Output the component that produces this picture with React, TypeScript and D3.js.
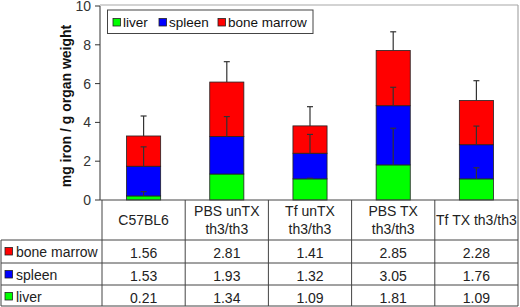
import React from "react";
import * as d3 from "d3";

const categories = ["C57BL6", "PBS unTX th3/th3", "Tf unTX th3/th3", "PBS TX th3/th3", "Tf TX th3/th3"];
const headerLines = [["C57BL6"], ["PBS unTX", "th3/th3"], ["Tf unTX", "th3/th3"], ["PBS TX", "th3/th3"], ["Tf TX th3/th3"]];
const seriesNames = ["liver", "spleen", "bone marrow"];
const seriesColors = ["#00ff00", "#0000ff", "#ff0000"];
const liver = [0.21, 1.34, 1.09, 1.81, 1.09];
const spleen = [1.53, 1.93, 1.32, 3.05, 1.76];
const boneMarrow = [1.56, 2.81, 1.41, 2.85, 2.28];
const liverErr = [0.22, 0, 0.03, 1.89, 0.57];
const spleenErr = [1.0, 1.03, 0.97, 0.95, 0.96];
const marrowErr = [1.03, 1.05, 0.99, 0.96, 1.02];
const yTicks = [0, 2, 4, 6, 8, 10];
const yTitle = "mg iron / g organ weight";

const W = 520;
const H = 307;
const FONT = "'Liberation Sans', Arial, sans-serif";

export default function App() {
  const left = 100;
  const right = 518;
  const top = 6;
  const bottom = 200;
  const y = d3.scaleLinear().domain([0, 10]).range([bottom, top]);
  const col = d3.scaleBand<string>().domain(categories).range([102, right]).padding(0);
  const x = d3.scaleBand<string>().domain(categories).range([102, right]).paddingInner(0.59).paddingOuter(0.295);

  const series = [liver, spleen, boneMarrow];
  const errs = [liverErr, spleenErr, marrowErr];
  const tableRows = [
    { name: "bone marrow", color: seriesColors[2], vals: boneMarrow },
    { name: "spleen", color: seriesColors[1], vals: spleen },
    { name: "liver", color: seriesColors[0], vals: liver },
  ];

  const rowTops = [240, 263, 285, 306];
  const lineColor = "#444";

  const bars: React.ReactNode[] = [];
  const errBars: React.ReactNode[] = [];
  categories.forEach((c, i) => {
    let cum = 0;
    series.forEach((s, k) => {
      const v0 = cum;
      const v1 = cum + s[i];
      cum = v1;
      const bx = x(c)!;
      bars.push(
        <rect key={`b${i}-${k}`} x={bx} y={y(v1)} width={x.bandwidth()} height={y(v0) - y(v1)}
          fill={seriesColors[k]} stroke="#222" strokeWidth={0.8} />
      );
      const e = errs[k][i];
      if (e > 0) {
        const cx = bx + x.bandwidth() / 2;
        errBars.push(
          <g key={`e${i}-${k}`} stroke="#333" strokeWidth={1.2}>
            <line x1={cx} x2={cx} y1={y(v1)} y2={y(v1 + e)} />
            <line x1={cx - 3} x2={cx + 3} y1={y(v1 + e)} y2={y(v1 + e)} />
          </g>
        );
      }
    });
  });

  const legendOffsets = [0, 46, 105];

  return (
    <svg width={W} height={H} style={{ position: "absolute", left: 0, top: 0, background: "#fff" }} fontFamily={FONT}>
      {/* plot area border */}
      <line x1={left} x2={right} y1={5} y2={5} stroke="#a8a8a8" strokeWidth={1.2} />
      <line x1={right} x2={right} y1={5} y2={bottom} stroke="#a8a8a8" strokeWidth={1.2} />

      {bars}
      {errBars}

      {/* y axis */}
      <line x1={left} x2={left} y1={top} y2={bottom} stroke="#333" strokeWidth={1} />
      {yTicks.map((t) => (
        <g key={t}>
          <line x1={left - 5} x2={left} y1={y(t)} y2={y(t)} stroke="#333" />
          <text x={left - 9} y={y(t)} dy="0.35em" textAnchor="end" fontSize={14} fill="#333">{t}</text>
        </g>
      ))}
      <text transform={`translate(71,${(top + bottom) / 2 + 3}) rotate(-90)`} textAnchor="middle" fontSize={14}
        fontWeight="bold" fill="#111">{yTitle}</text>

      {/* legend */}
      <rect x={107.5} y={10} width={205.5} height={23.5} fill="#fff" stroke="#444" strokeWidth={1} />
      {seriesNames.map((n, k) => (
        <g key={n} transform={`translate(${113 + legendOffsets[k]},0)`}>
          <rect x={0} y={18.5} width={7.5} height={7.5} fill={seriesColors[k]} stroke="#222" strokeWidth={0.8} />
          <text x={10} y={26.5} fontSize={13.5} fill="#111">{n}</text>
        </g>
      ))}

      {/* table */}
      <line x1={left} x2={right} y1={bottom} y2={bottom} stroke={lineColor} strokeWidth={1} />
      {categories.map((c) => (
        <line key={`v${c}`} x1={col(c)!} x2={col(c)!} y1={bottom} y2={rowTops[3]} stroke={lineColor} />
      ))}
      <line x1={right} x2={right} y1={bottom} y2={rowTops[3]} stroke={lineColor} />
      <line x1={1} x2={1} y1={rowTops[0]} y2={rowTops[3]} stroke={lineColor} />
      {rowTops.map((ry) => (
        <line key={`h${ry}`} x1={1} x2={right} y1={ry} y2={ry} stroke={lineColor} />
      ))}
      {categories.map((c, i) => {
        const lines = headerLines[i];
        const cx = col(c)! + col.bandwidth() / 2;
        const base = lines.length === 1 ? 225 : 216;
        return (
          <text key={`hd${c}`} textAnchor="middle" fontSize={14} fill="#222">
            {lines.map((l, j) => (
              <tspan key={j} x={cx} y={base + j * 17.5}>{l}</tspan>
            ))}
          </text>
        );
      })}
      {tableRows.map((r, ri) => (
        <g key={r.name}>
          <rect x={5} y={rowTops[ri] + 7.5} width={7.5} height={7.5} fill={r.color} stroke="#222" strokeWidth={0.8} />
          <text x={16} y={rowTops[ri] + 17} fontSize={14} fill="#222">{r.name}</text>
          {categories.map((c, i) => (
            <text key={c} x={col(c)! + col.bandwidth() / 2} y={rowTops[ri] + 17.5} textAnchor="middle" fontSize={14} fill="#222">
              {r.vals[i].toFixed(2)}
            </text>
          ))}
        </g>
      ))}
    </svg>
  );
}
